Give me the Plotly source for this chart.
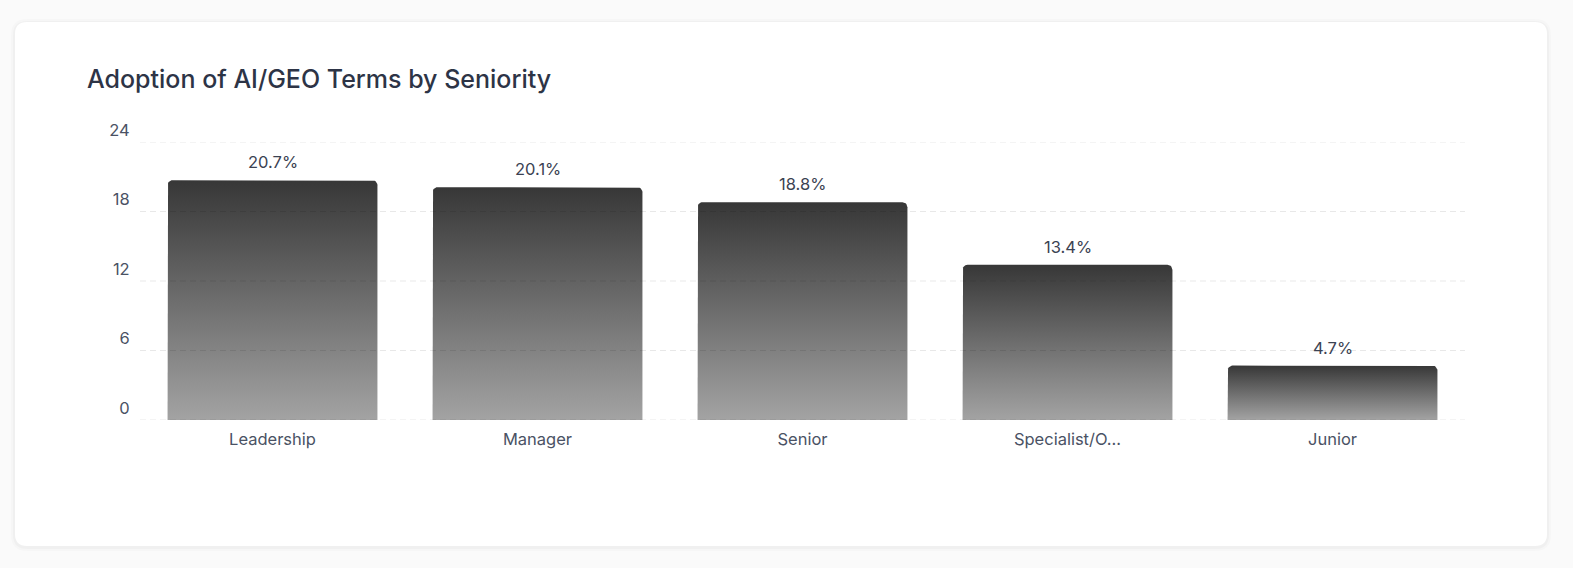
import numpy as np
import plotly.graph_objects as go

# ---- data ----
categories = ["Leadership", "Manager", "Senior", "Specialist/O...", "Junior"]
values = [20.7, 20.1, 18.8, 13.4, 4.7]
value_labels = ["20.7%", "20.1%", "18.8%", "13.4%", "4.7%"]
y_ticks = [0, 6, 12, 18, 24]
title_text = "Adoption of AI/GEO Terms by Seniority"

# ---- layout geometry ----
W, H = 1573, 568
ML, MR, MT, MB = 140, 108, 142, 148
PW, PH = W - ML - MR, H - MT - MB
Y_MAX = 24
X_RANGE = [-0.5, len(categories) - 0.5]
HALF_W = 0.396
R_PX = 5

FONT = "Inter, Noto Sans, sans-serif"


def px_x(px):
    return (px - ML) / PW


def px_y(py):
    return (H - MB - py) / PH


def rounded_rect_path(x0, y0, x1, y1, r):
    X0, X1 = px_x(x0), px_x(x1)
    Yt, Yb = px_y(y0), px_y(y1)
    rx, ry = r / PW, r / PH
    return (
        f"M {X0+rx},{Yt} L {X1-rx},{Yt} Q {X1},{Yt} {X1},{Yt-ry} "
        f"L {X1},{Yb+ry} Q {X1},{Yb} {X1-rx},{Yb} L {X0+rx},{Yb} "
        f"Q {X0},{Yb} {X0},{Yb+ry} L {X0},{Yt-ry} Q {X0},{Yt} {X0+rx},{Yt} Z"
    )


fig = go.Figure()

# bars as filled shapes with vertical gradient
rx = R_PX / PW * (X_RANGE[1] - X_RANGE[0])
ry = R_PX / PH * Y_MAX
theta = np.linspace(0, np.pi / 2, 8)
for i, v in enumerate(values):
    xl, xr = i - HALF_W, i + HALF_W
    xs = [xl, xl]
    ys = [0, v - ry]
    xs += list(xl + rx - rx * np.cos(theta))
    ys += list(v - ry + ry * np.sin(theta))
    xs += list(xr - rx + rx * np.sin(theta))
    ys += list(v - ry + ry * np.cos(theta))
    xs += [xr, xr, xl]
    ys += [v - ry, 0, 0]
    fig.add_trace(go.Scatter(
        x=xs, y=ys, mode="lines", fill="toself",
        line=dict(width=0, color="rgba(0,0,0,0)"),
        fillgradient=dict(type="vertical",
                          colorscale=[[0, "#a3a3a3"], [1, "#373737"]]),
        hoverinfo="skip", showlegend=False,
    ))

# value labels
for i, (v, t) in enumerate(zip(values, value_labels)):
    fig.add_annotation(x=i, y=v, text=t, showarrow=False, yanchor="bottom",
                       yshift=6, font=dict(family=FONT, size=16.5, color="#3b4252"))

shapes = []
for grow, alpha in [(4, 0.015), (2, 0.025)]:
    shapes.append(dict(type="path", xref="paper", yref="paper", layer="below",
                       path=rounded_rect_path(15 - grow, 22 - grow + 1, 1547 + grow, 546 + grow + 1, 12 + grow),
                       fillcolor=f"rgba(0,0,0,{alpha})", line=dict(width=0)))
shapes.append(dict(type="path", xref="paper", yref="paper", layer="below",
                   path=rounded_rect_path(15, 22, 1547, 546, 12),
                   fillcolor="#ffffff", line=dict(width=0)))
for t in y_ticks:
    shapes.append(dict(type="line", xref="paper", yref="y", x0=0, x1=1, y0=t, y1=t,
                       layer="above",
                       line=dict(color="rgba(0,0,0,0.09)", width=1, dash="6px,4px")))

fig.update_layout(
    width=W, height=H, autosize=False,
    margin=dict(l=ML, r=MR, t=MT, b=MB, pad=0),
    paper_bgcolor="#fafafa",
    plot_bgcolor="rgba(0,0,0,0)",
    shapes=shapes,
    title=dict(text=title_text, x=87 / W, xref="container", xanchor="left",
               y=1 - 79 / H, yref="container", yanchor="middle",
               font=dict(family=FONT, size=25, weight=500, color="#2d3446")),
    xaxis=dict(range=X_RANGE, tickvals=list(range(len(categories))), ticktext=categories,
               showgrid=False, zeroline=False, showline=False,
               ticks="outside", ticklen=4, tickcolor="rgba(0,0,0,0)",
               tickfont=dict(family=FONT, size=16.5, color="#4a5264"), fixedrange=True),
    yaxis=dict(range=[0, Y_MAX], tickvals=y_ticks, ticktext=[str(t) for t in y_ticks],
               showgrid=False, zeroline=False, showline=False,
               ticks="outside", ticklen=12, tickcolor="rgba(0,0,0,0)",
               ticklabelposition="outside top", ticklabelstandoff=6,
               tickfont=dict(family=FONT, size=16.5, color="#4a5264"), fixedrange=True),
    showlegend=False,
)

fig.write_html("out.html",
               config={"displayModeBar": False, "responsive": False},
               post_script="document.body.style.margin='0';document.body.style.overflow='hidden';document.body.style.background='#fafafa';")
